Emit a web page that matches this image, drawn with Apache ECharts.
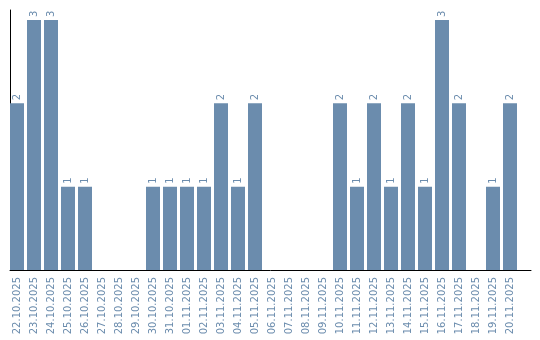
<!DOCTYPE html>
<html><head><meta charset="utf-8">
<script src="https://cdn.jsdelivr.net/npm/echarts@6/dist/echarts.min.js"></script>
<style>html,body{margin:0;padding:0;background:#fff}#c{width:540px;height:340px}</style>
</head><body><div id="c"></div>
<script>
const categories = ["22.10.2025","23.10.2025","24.10.2025","25.10.2025","26.10.2025","27.10.2025","28.10.2025","29.10.2025","30.10.2025","31.10.2025","01.11.2025","02.11.2025","03.11.2025","04.11.2025","05.11.2025","06.11.2025","07.11.2025","08.11.2025","09.11.2025","10.11.2025","11.11.2025","12.11.2025","13.11.2025","14.11.2025","15.11.2025","16.11.2025","17.11.2025","18.11.2025","19.11.2025","20.11.2025"];
const values = [2,3,3,1,1,0,0,0,1,1,1,1,2,1,2,0,0,0,0,2,1,2,1,2,1,3,2,0,1,2];
const yMax = 3.12;

const color = '#6b8cad';
const chart = echarts.init(document.getElementById('c'), null, {renderer:'canvas'});
chart.setOption({
  animation:false,
  grid:[
    {left:8.5, top:10, width:510, height:260},
    {left:10, top:10, width:521, height:260}
  ],
  xAxis:[
    {type:'category', gridIndex:0, data:categories,
     axisLine:{show:false}, axisTick:{show:false},
     axisLabel:{interval:0, rotate:90, margin:7, fontFamily:'DejaVu Sans', fontSize:10, color:color}},
    {type:'value', gridIndex:1, min:0, max:1, axisLine:{show:true, lineStyle:{color:'#000', width:1}},
     axisTick:{show:false}, axisLabel:{show:false}, splitLine:{show:false}}
  ],
  yAxis:[
    {type:'value', gridIndex:0, min:0, max:yMax, axisLine:{show:false}, axisTick:{show:false},
     axisLabel:{show:false}, splitLine:{show:false}},
    {type:'value', gridIndex:1, min:0, max:1, axisLine:{show:true, lineStyle:{color:'#000', width:1}},
     axisTick:{show:false}, axisLabel:{show:false}, splitLine:{show:false}}
  ],
  series:[{
    type:'bar', xAxisIndex:0, yAxisIndex:0, data:values, barWidth:14,
    itemStyle:{color:color},
    label:{show:true, position:'top', distance:3, rotate:90, align:'left', verticalAlign:'middle',
      fontFamily:'DejaVu Sans', fontSize:10, color:color,
      formatter:p=>p.value ? String(p.value) : ''}
  }]
});
</script></body></html>
